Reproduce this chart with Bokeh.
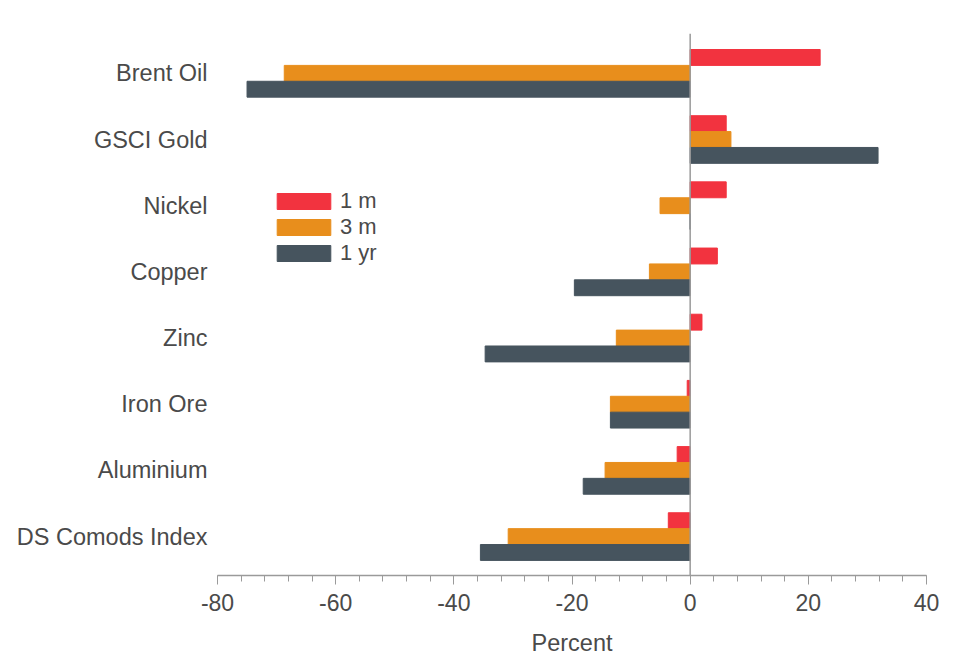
from bokeh.plotting import figure
from bokeh.models import ColumnDataSource, FixedTicker, Span, Legend, LegendItem
from bokeh.embed import file_html
from bokeh.resources import INLINE

categories = ["Brent Oil", "GSCI Gold", "Nickel", "Copper", "Zinc", "Iron Ore", "Aluminium", "DS Comods Index"]
m1 = [22.0, 6.1, 6.1, 4.6, 2.0, -0.5, -2.2, -3.7]
m3 = [-68.7, 6.9, -5.1, -6.9, -12.5, -13.5, -14.4, -30.8]
yr1 = [-75.0, 31.8, 0.0, -19.6, -34.7, -13.5, -18.1, -35.5]
x_ticks = [-80, -60, -40, -20, 0, 20, 40]

n = len(categories)
pos = [n - 1 - i for i in range(n)]  # Brent Oil at top

FONT = "Liberation Sans"
TXT = "#4a4a4a"
RED, ORANGE, DARK = "#F2333F", "#E88E1C", "#46545E"
bh = 0.24

src = ColumnDataSource(dict(
    y1=[p + bh for p in pos], y3=pos, yy=[p - bh for p in pos],
    m1=m1, m3=m3, yr1=yr1,
))

p = figure(width=952, height=658, x_range=(-80, 40), y_range=(-0.588, 7.602),
           output_backend="svg", toolbar_location=None,
           min_border_left=217, min_border_right=26, min_border_top=33, min_border_bottom=82)
p.outline_line_color = None
p.grid.visible = False

r1 = p.hbar(y="y1", left=0, right="m1", height=bh, color=RED, source=src)
r3 = p.hbar(y="y3", left=0, right="m3", height=bh, color=ORANGE, source=src)
ry = p.hbar(y="yy", left=0, right="yr1", height=bh, color=DARK, source=src)

p.add_layout(Span(location=0, dimension="height", line_color="#9a9a9a", line_width=1.5))

# x axis
xa = p.xaxis[0]
xa.ticker = FixedTicker(ticks=x_ticks, minor_ticks=list(range(-80, 41, 4)))
xa.major_label_overrides = {t: str(t) for t in x_ticks}
xa.axis_line_color = "#9a9a9a"
xa.axis_line_width = 1.5
xa.major_tick_line_color = "#9a9a9a"
xa.minor_tick_line_color = "#9a9a9a"
xa.major_tick_out = 9
xa.major_tick_in = 0
xa.minor_tick_out = 6
xa.minor_tick_in = 0
xa.major_label_text_font = FONT
xa.major_label_text_font_size = "23px"
xa.major_label_text_color = TXT
xa.major_label_standoff = 9
xa.axis_label = "Percent"
xa.axis_label_text_font = FONT
xa.axis_label_text_font_size = "23.5px"
xa.axis_label_text_font_style = "normal"
xa.axis_label_text_color = TXT
xa.axis_label_standoff = 16

# y axis
ya = p.yaxis[0]
ya.ticker = FixedTicker(ticks=pos)
ya.major_label_overrides = {pv: c for pv, c in zip(pos, categories)}
ya.axis_line_color = None
ya.major_tick_line_color = None
ya.minor_tick_line_color = None
ya.major_tick_out = 0
ya.major_tick_in = 0
ya.major_label_text_font = FONT
ya.major_label_text_font_size = "23.5px"
ya.major_label_text_color = TXT
ya.major_label_standoff = 10

legend = Legend(items=[LegendItem(label="1 m", renderers=[r1]),
                       LegendItem(label="3 m", renderers=[r3]),
                       LegendItem(label="1 yr", renderers=[ry])],
                location=(53, 309), orientation="vertical",
                glyph_width=67, glyph_height=20, label_height=20,
                spacing=0, padding=0, margin=0, label_standoff=3,
                label_text_font=FONT, label_text_font_size="22px", label_text_color=TXT,
                border_line_color=None, background_fill_alpha=0)
p.add_layout(legend, "center")

open("out.html", "w").write(file_html(p, INLINE))
